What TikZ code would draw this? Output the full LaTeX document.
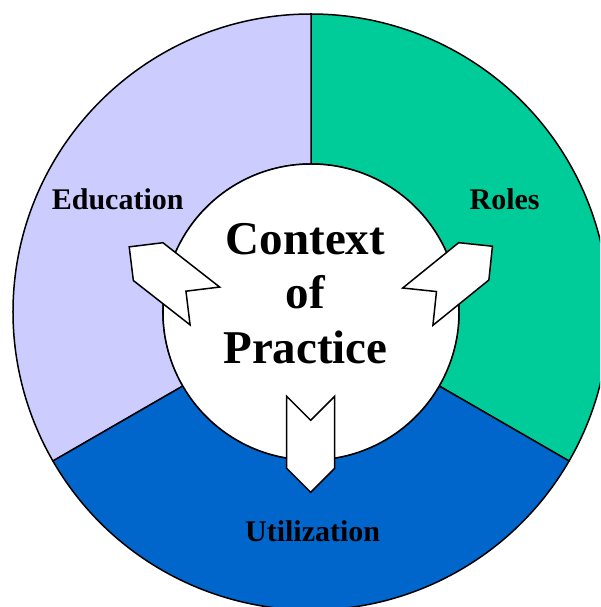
\documentclass[tikz,border=0pt]{standalone}
\usepackage{fontspec}
\setmainfont{Liberation Serif}

\definecolor{educfill}{RGB}{204,204,255}
\definecolor{rolesfill}{RGB}{0,204,153}
\definecolor{utilfill}{RGB}{0,102,204}

\tikzset{chevron/.pic={%
    \draw[arrowbox] (-36,24) -- (-12,0) -- (-36,-24) -- (36,-24) -- (60,0) -- (36,24) -- cycle;}}

\begin{document}
\begin{tikzpicture}%
        [x=1pt, y=1pt,
        ring/.style={draw=black, line width=1.5pt, line join=round},
        hub/.style={fill=white, draw=black, line width=1.5pt},
        arrowbox/.style={fill=white, draw=black, line width=1.5pt, line join=miter},
        lbl/.style={anchor=base, inner sep=0pt, font=\bfseries\fontsize{30}{36}\selectfont},
        ctx/.style={anchor=base, inner sep=0pt, font=\bfseries\fontsize{47}{54}\selectfont}]
    %
    %% Page frame
    \useasboundingbox (-311,-295) rectangle (289,312);
    \clip (-311,-295) rectangle (289,312);
    %%
    %% Drawing the outer ring
    %%
    \filldraw[ring, fill=rolesfill] (-30:298) arc (-30:90:298) -- (90:148) arc (90:-30:148) -- cycle;
    \filldraw[ring, fill=educfill] (90:298) arc (90:210:298) -- (210:148) arc (210:90:148) -- cycle;
    \filldraw[ring, fill=utilfill] (210:298) arc (210:330:298) -- (330:148) arc (330:210:148) -- cycle;
    %% Drawing the hub
    \filldraw[hub] (0,0) circle (148);
    %%
    %% Arrows out of the hub
    \pic[rotate=142] at (-134.5,28.2) {chevron};
    \pic[rotate=39] at (134.8,28) {chevron};
    \pic[rotate=270] at (-0.3,-120.3) {chevron};
    %%
    %% Labels
    \node[lbl] (educ) at (-193.3,102.3) {Education};
    \node[lbl] (roles) at (193.6,102.3) {Roles};
    \node[lbl] (util) at (1.6,-229.5) {Utilization};
    \node[ctx] (ctxa) at (-5.5,57.5) {Context};
    \node[ctx] (ctxb) at (-5.5,3) {of};
    \node[ctx] (ctxc) at (-5.5,-51.6) {Practice};
    %%
\end{tikzpicture}
\end{document}
